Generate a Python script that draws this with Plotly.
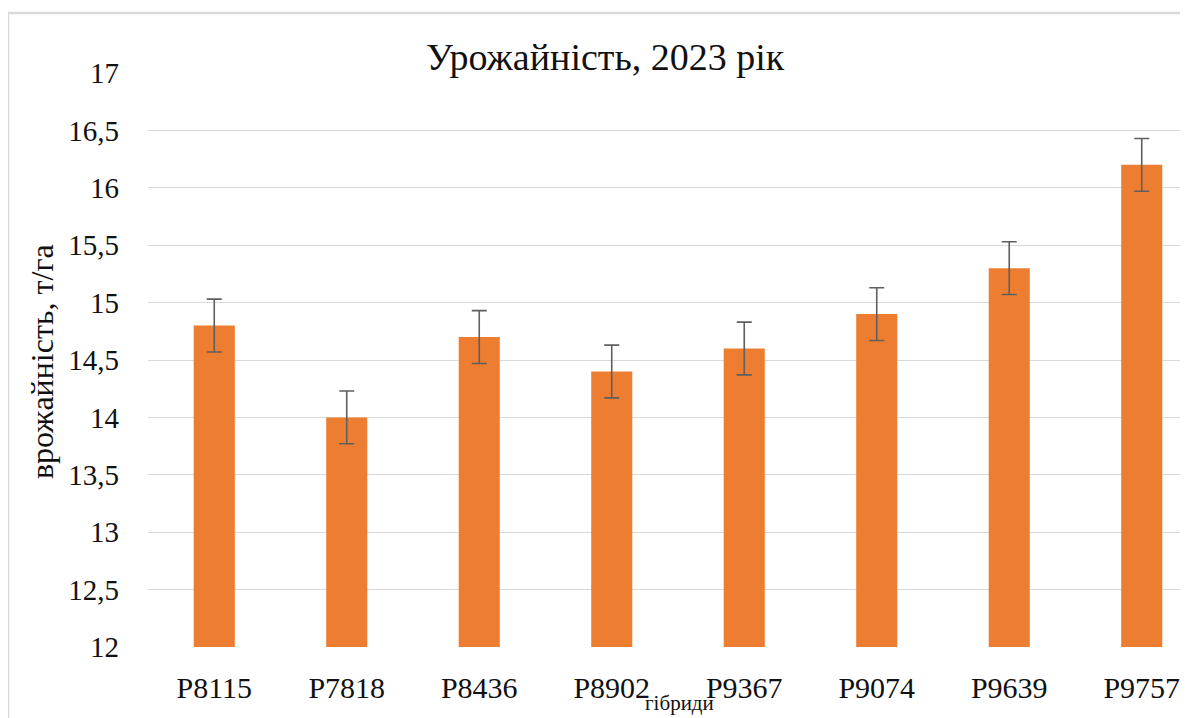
import plotly.graph_objects as go

hybrids = ["P8115", "P7818", "P8436", "P8902", "P9367", "P9074", "P9639", "P9757"]
yields = [14.8, 14.0, 14.7, 14.4, 14.6, 14.9, 15.3, 16.2]
errors = [0.23, 0.23, 0.23, 0.23, 0.23, 0.23, 0.23, 0.23]
y_ticks = [12, 12.5, 13, 13.5, 14, 14.5, 15, 15.5, 16, 16.5, 17]
y_tick_text = [str(v).replace(".", ",") for v in y_ticks]

FONT = "'Times New Roman', 'Liberation Serif', 'DejaVu Serif', serif"

OFF = 8  # page body margin
W, H = 1180, 710
L, R, T, B = 148 - OFF, 0, 73 - OFF, 718 - 647
pw, ph = W - L - R, H - T - B

def px_x(x):
    return (x - OFF - L) / pw

def px_y(y):
    return (647 - y) / ph

fig = go.Figure()
fig.add_trace(go.Bar(
    x=list(range(len(hybrids))),
    y=[v - 12 for v in yields],
    base=12,
    width=0.31,
    marker=dict(color="#ED7D31", line=dict(width=0)),
    error_y=dict(type="data", array=errors, color="#5f5f5f", thickness=1.6, width=7.5),
    hoverinfo="skip",
))

fig.update_layout(
    width=W, height=H,
    margin=dict(l=L, r=R, t=T, b=B),
    paper_bgcolor="white", plot_bgcolor="white",
    showlegend=False,
    font=dict(family=FONT, size=28, color="#111111"),
    xaxis=dict(
        range=[-0.5, 7.41 - 8 / 131.5],
        tickmode="array", tickvals=list(range(len(hybrids))), ticktext=hybrids,
        showgrid=False, zeroline=False, showline=False, ticks="",
        tickfont=dict(family=FONT, size=30, color="#111111"),
        ticklabelstandoff=20,
    ),
    yaxis=dict(
        range=[12, 17],
        tickmode="array", tickvals=y_ticks, ticktext=y_tick_text,
        showgrid=True, gridcolor="#D9D9D9", gridwidth=1.3,
        zeroline=False, showline=False, ticks="",
        tickfont=dict(family=FONT, size=29, color="#111111"),
        ticklabelstandoff=28,
    ),
)

# chart border
fig.add_shape(type="rect", xref="paper", yref="paper",
              x0=px_x(8), x1=px_x(1300), y0=px_y(900), y1=px_y(13),
              line=dict(color="#D9D9D9", width=2.5), fillcolor="rgba(0,0,0,0)", layer="below")

# title
fig.add_annotation(text="Урожайність, 2023 рік", xref="paper", yref="paper",
                   x=px_x(605), y=px_y(57), showarrow=False, xanchor="center", yanchor="middle",
                   font=dict(family=FONT, size=38, color="#111111"))
# y-axis title
fig.add_annotation(text="врожайність, т/га", xref="paper", yref="paper",
                   x=px_x(42), y=px_y(362), showarrow=False, textangle=-90,
                   xanchor="center", yanchor="middle",
                   font=dict(family=FONT, size=32, color="#111111"))
# x-axis title
fig.add_annotation(text="гібриди", xref="paper", yref="paper",
                   x=px_x(679), y=px_y(703), showarrow=False, xanchor="center", yanchor="middle",
                   font=dict(family=FONT, size=21, color="#111111"))

fig.write_html("out.html")
